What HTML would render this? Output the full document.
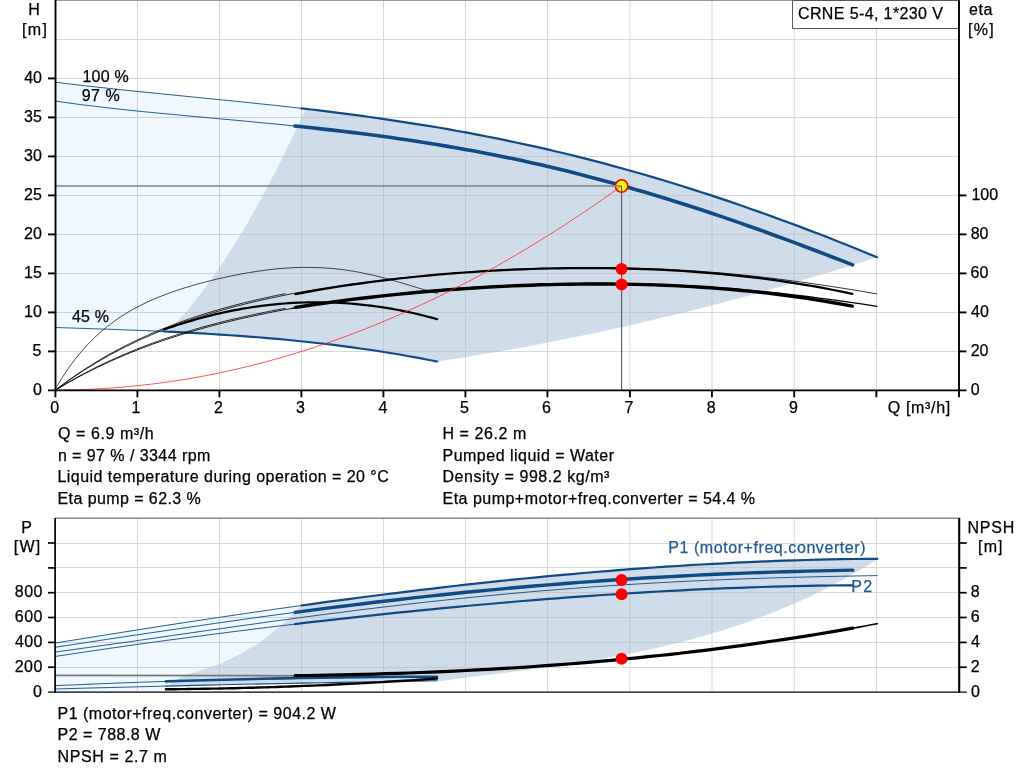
<!DOCTYPE html>
<html><head><meta charset="utf-8"><title>Pump curve</title><style>html,body{margin:0;padding:0;background:#fff}svg{display:block}</style></head><body>
<svg width="1024" height="781" viewBox="0 0 1024 781" font-family="Liberation Sans, Arial, sans-serif" font-size="16" fill="#000">
<rect width="1024" height="781" fill="#fff"/>
<g stroke="#d6d8dc" stroke-width="1">
<line x1="137.5" y1="0" x2="137.5" y2="390"/>
<line x1="219.5" y1="0" x2="219.5" y2="390"/>
<line x1="301.5" y1="0" x2="301.5" y2="390"/>
<line x1="383.5" y1="0" x2="383.5" y2="390"/>
<line x1="465.5" y1="0" x2="465.5" y2="390"/>
<line x1="547.5" y1="0" x2="547.5" y2="390"/>
<line x1="630.0" y1="0" x2="630.0" y2="390"/>
<line x1="712.0" y1="0" x2="712.0" y2="390"/>
<line x1="794.3" y1="0" x2="794.3" y2="390"/>
<line x1="876.5" y1="0" x2="876.5" y2="390"/>
<line x1="56" y1="351.5" x2="959" y2="351.5"/>
<line x1="56" y1="312.5" x2="959" y2="312.5"/>
<line x1="56" y1="273.5" x2="959" y2="273.5"/>
<line x1="56" y1="234.5" x2="959" y2="234.5"/>
<line x1="56" y1="195.5" x2="959" y2="195.5"/>
<line x1="56" y1="156.5" x2="959" y2="156.5"/>
<line x1="56" y1="117.5" x2="959" y2="117.5"/>
<line x1="56" y1="78.5" x2="959" y2="78.5"/>
<line x1="56" y1="39.5" x2="959" y2="39.5"/>
</g>
<path d="M55.5 82.2 L68.7 83.8 L81.8 85.4 L95.0 86.9 L108.1 88.3 L121.3 89.7 L134.4 91.1 L147.6 92.5 L160.8 93.8 L173.9 95.1 L187.1 96.4 L200.2 97.7 L213.4 99.0 L226.6 100.3 L239.7 101.7 L252.9 103.0 L266.0 104.4 L279.2 105.8 L292.3 107.3 L305.5 108.8 L305.5 108.8 L300.8 119.2 L296.0 129.4 L291.3 139.5 L286.5 149.3 L281.8 158.9 L277.1 168.4 L272.3 177.6 L267.6 186.7 L262.8 195.5 L258.1 204.2 L253.3 212.7 L248.6 220.9 L243.9 229.0 L239.1 236.9 L234.4 244.6 L229.6 252.1 L224.9 259.4 L220.2 266.5 L215.4 273.4 L210.7 280.1 L205.9 286.6 L201.2 292.9 L196.4 299.1 L191.7 305.0 L187.0 310.7 L182.2 316.3 L177.5 321.6 L172.7 326.7 L168.0 331.7 L168.0 331.7 L155.5 331.1 L143.0 330.6 L130.5 330.1 L118.0 329.6 L105.5 329.1 L93.0 328.7 L80.5 328.3 L68.0 327.9 L55.5 327.5Z" fill="#eff7ff"/>
<path d="M168.0 331.7 L172.7 326.7 L177.5 321.6 L182.2 316.3 L187.0 310.7 L191.7 305.0 L196.4 299.1 L201.2 292.9 L205.9 286.6 L210.7 280.1 L215.4 273.4 L220.2 266.5 L224.9 259.4 L229.6 252.1 L234.4 244.6 L239.1 236.9 L243.9 229.0 L248.6 220.9 L253.3 212.7 L258.1 204.2 L262.8 195.5 L267.6 186.7 L272.3 177.6 L277.1 168.4 L281.8 158.9 L286.5 149.3 L291.3 139.5 L296.0 129.4 L300.8 119.2 L305.5 108.8 L305.5 108.8 L315.2 110.0 L324.9 111.1 L334.6 112.3 L344.2 113.6 L353.9 114.8 L363.6 116.1 L373.3 117.5 L383.0 118.9 L392.7 120.3 L402.4 121.8 L412.1 123.3 L421.7 124.8 L431.4 126.4 L441.1 128.1 L450.8 129.7 L460.5 131.5 L470.2 133.3 L479.9 135.1 L489.5 137.0 L499.2 139.0 L508.9 140.9 L518.6 143.0 L528.3 145.1 L538.0 147.3 L547.7 149.5 L557.3 151.7 L567.0 154.1 L576.7 156.5 L586.4 158.9 L596.1 161.4 L605.8 163.9 L615.5 166.6 L625.2 169.2 L634.8 171.9 L644.5 174.7 L654.2 177.6 L663.9 180.5 L673.6 183.4 L683.3 186.4 L693.0 189.5 L702.6 192.6 L712.3 195.8 L722.0 199.0 L731.7 202.3 L741.4 205.6 L751.1 209.0 L760.8 212.4 L770.4 215.9 L780.1 219.4 L789.8 223.0 L799.5 226.6 L809.2 230.3 L818.9 234.0 L828.6 237.8 L838.3 241.6 L847.9 245.4 L857.6 249.3 L867.3 253.2 L877.0 257.2 L877.0 257.2 L865.7 260.8 L854.4 264.4 L843.2 267.9 L831.9 271.4 L820.6 274.8 L809.3 278.2 L798.1 281.6 L786.8 284.8 L775.5 288.1 L764.2 291.3 L753.0 294.4 L741.7 297.5 L730.4 300.5 L719.1 303.5 L707.8 306.4 L696.6 309.3 L685.3 312.1 L674.0 314.9 L662.7 317.6 L651.5 320.3 L640.2 322.9 L628.9 325.5 L617.6 328.0 L606.4 330.5 L595.1 332.9 L583.8 335.3 L572.5 337.6 L561.2 339.9 L550.0 342.1 L538.7 344.3 L527.4 346.4 L516.1 348.4 L504.9 350.5 L493.6 352.4 L482.3 354.3 L471.0 356.2 L459.8 358.0 L448.5 359.8 L437.2 361.5 L437.2 361.5 L427.9 359.7 L418.6 357.9 L409.4 356.2 L400.1 354.6 L390.8 353.1 L381.5 351.6 L372.2 350.2 L362.9 348.8 L353.7 347.5 L344.4 346.3 L335.1 345.1 L325.8 344.0 L316.5 342.9 L307.2 341.9 L298.0 340.9 L288.7 340.0 L279.4 339.2 L270.1 338.3 L260.8 337.6 L251.5 336.8 L242.3 336.1 L233.0 335.4 L223.7 334.8 L214.4 334.2 L205.1 333.6 L195.8 333.1 L186.6 332.6 L177.3 332.1 L168.0 331.7Z" fill="#cfdce9"/>
<clipPath id="cu"><path d="M55.5 82.2 L68.7 83.8 L81.8 85.4 L95.0 86.9 L108.1 88.3 L121.3 89.7 L134.4 91.1 L147.6 92.5 L160.8 93.8 L173.9 95.1 L187.1 96.4 L200.2 97.7 L213.4 99.0 L226.6 100.3 L239.7 101.7 L252.9 103.0 L266.0 104.4 L279.2 105.8 L292.3 107.3 L305.5 108.8 L305.5 108.8 L300.8 119.2 L296.0 129.4 L291.3 139.5 L286.5 149.3 L281.8 158.9 L277.1 168.4 L272.3 177.6 L267.6 186.7 L262.8 195.5 L258.1 204.2 L253.3 212.7 L248.6 220.9 L243.9 229.0 L239.1 236.9 L234.4 244.6 L229.6 252.1 L224.9 259.4 L220.2 266.5 L215.4 273.4 L210.7 280.1 L205.9 286.6 L201.2 292.9 L196.4 299.1 L191.7 305.0 L187.0 310.7 L182.2 316.3 L177.5 321.6 L172.7 326.7 L168.0 331.7 L168.0 331.7 L155.5 331.1 L143.0 330.6 L130.5 330.1 L118.0 329.6 L105.5 329.1 L93.0 328.7 L80.5 328.3 L68.0 327.9 L55.5 327.5Z"/><path d="M168.0 331.7 L172.7 326.7 L177.5 321.6 L182.2 316.3 L187.0 310.7 L191.7 305.0 L196.4 299.1 L201.2 292.9 L205.9 286.6 L210.7 280.1 L215.4 273.4 L220.2 266.5 L224.9 259.4 L229.6 252.1 L234.4 244.6 L239.1 236.9 L243.9 229.0 L248.6 220.9 L253.3 212.7 L258.1 204.2 L262.8 195.5 L267.6 186.7 L272.3 177.6 L277.1 168.4 L281.8 158.9 L286.5 149.3 L291.3 139.5 L296.0 129.4 L300.8 119.2 L305.5 108.8 L305.5 108.8 L315.2 110.0 L324.9 111.1 L334.6 112.3 L344.2 113.6 L353.9 114.8 L363.6 116.1 L373.3 117.5 L383.0 118.9 L392.7 120.3 L402.4 121.8 L412.1 123.3 L421.7 124.8 L431.4 126.4 L441.1 128.1 L450.8 129.7 L460.5 131.5 L470.2 133.3 L479.9 135.1 L489.5 137.0 L499.2 139.0 L508.9 140.9 L518.6 143.0 L528.3 145.1 L538.0 147.3 L547.7 149.5 L557.3 151.7 L567.0 154.1 L576.7 156.5 L586.4 158.9 L596.1 161.4 L605.8 163.9 L615.5 166.6 L625.2 169.2 L634.8 171.9 L644.5 174.7 L654.2 177.6 L663.9 180.5 L673.6 183.4 L683.3 186.4 L693.0 189.5 L702.6 192.6 L712.3 195.8 L722.0 199.0 L731.7 202.3 L741.4 205.6 L751.1 209.0 L760.8 212.4 L770.4 215.9 L780.1 219.4 L789.8 223.0 L799.5 226.6 L809.2 230.3 L818.9 234.0 L828.6 237.8 L838.3 241.6 L847.9 245.4 L857.6 249.3 L867.3 253.2 L877.0 257.2 L877.0 257.2 L865.7 260.8 L854.4 264.4 L843.2 267.9 L831.9 271.4 L820.6 274.8 L809.3 278.2 L798.1 281.6 L786.8 284.8 L775.5 288.1 L764.2 291.3 L753.0 294.4 L741.7 297.5 L730.4 300.5 L719.1 303.5 L707.8 306.4 L696.6 309.3 L685.3 312.1 L674.0 314.9 L662.7 317.6 L651.5 320.3 L640.2 322.9 L628.9 325.5 L617.6 328.0 L606.4 330.5 L595.1 332.9 L583.8 335.3 L572.5 337.6 L561.2 339.9 L550.0 342.1 L538.7 344.3 L527.4 346.4 L516.1 348.4 L504.9 350.5 L493.6 352.4 L482.3 354.3 L471.0 356.2 L459.8 358.0 L448.5 359.8 L437.2 361.5 L437.2 361.5 L427.9 359.7 L418.6 357.9 L409.4 356.2 L400.1 354.6 L390.8 353.1 L381.5 351.6 L372.2 350.2 L362.9 348.8 L353.7 347.5 L344.4 346.3 L335.1 345.1 L325.8 344.0 L316.5 342.9 L307.2 341.9 L298.0 340.9 L288.7 340.0 L279.4 339.2 L270.1 338.3 L260.8 337.6 L251.5 336.8 L242.3 336.1 L233.0 335.4 L223.7 334.8 L214.4 334.2 L205.1 333.6 L195.8 333.1 L186.6 332.6 L177.3 332.1 L168.0 331.7Z"/></clipPath>
<g stroke="#bfc1c4" stroke-width="1" opacity="0.7" clip-path="url(#cu)">
<line x1="137.5" y1="60" x2="137.5" y2="390"/>
<line x1="219.5" y1="60" x2="219.5" y2="390"/>
<line x1="301.5" y1="60" x2="301.5" y2="390"/>
<line x1="383.5" y1="60" x2="383.5" y2="390"/>
<line x1="465.5" y1="60" x2="465.5" y2="390"/>
<line x1="547.5" y1="60" x2="547.5" y2="390"/>
<line x1="630.0" y1="60" x2="630.0" y2="390"/>
<line x1="712.0" y1="60" x2="712.0" y2="390"/>
<line x1="794.3" y1="60" x2="794.3" y2="390"/>
<line x1="876.5" y1="60" x2="876.5" y2="390"/>
<line x1="56" y1="351.5" x2="880" y2="351.5"/>
<line x1="56" y1="312.5" x2="880" y2="312.5"/>
<line x1="56" y1="273.5" x2="880" y2="273.5"/>
<line x1="56" y1="234.5" x2="880" y2="234.5"/>
<line x1="56" y1="195.5" x2="880" y2="195.5"/>
<line x1="56" y1="156.5" x2="880" y2="156.5"/>
<line x1="56" y1="117.5" x2="880" y2="117.5"/>
<line x1="56" y1="78.5" x2="880" y2="78.5"/>
</g>
<rect x="55" y="0" width="905" height="1" fill="#9a9a9a"/>
<g fill="none" stroke="#0f4a85" stroke-linecap="round">
<path d="M55.5 82.2 L68.4 83.8 L81.4 85.3 L94.3 86.8 L107.3 88.2 L120.2 89.6 L133.2 91.0 L146.1 92.3 L159.1 93.6 L172.0 94.9 L185.0 96.2 L197.9 97.5 L210.9 98.8 L223.8 100.1 L236.8 101.4 L249.7 102.7 L262.7 104.1 L275.6 105.4 L288.6 106.9 L301.5 108.4" stroke-width="0.9"/>
<path d="M301.5 108.4 L311.3 109.5 L321.0 110.7 L330.8 111.9 L340.5 113.1 L350.3 114.4 L360.0 115.7 L369.8 117.0 L379.5 118.4 L389.3 119.8 L399.0 121.3 L408.8 122.8 L418.6 124.3 L428.3 125.9 L438.1 127.5 L447.8 129.2 L457.6 131.0 L467.3 132.7 L477.1 134.6 L486.8 136.5 L496.6 138.4 L506.3 140.4 L516.1 142.5 L525.8 144.6 L535.6 146.7 L545.4 148.9 L555.1 151.2 L564.9 153.5 L574.6 155.9 L584.4 158.4 L594.1 160.9 L603.9 163.4 L613.6 166.1 L623.4 168.7 L633.1 171.5 L642.9 174.3 L652.7 177.1 L662.4 180.0 L672.2 183.0 L681.9 186.0 L691.7 189.1 L701.4 192.2 L711.2 195.4 L720.9 198.6 L730.7 201.9 L740.4 205.3 L750.2 208.7 L759.9 212.1 L769.7 215.6 L779.5 219.2 L789.2 222.8 L799.0 226.4 L808.7 230.1 L818.5 233.8 L828.2 237.6 L838.0 241.5 L847.7 245.3 L857.5 249.2 L867.2 253.2 L877.0 257.2" stroke-width="2.2"/>
<path d="M55.5 101.1 L68.1 102.9 L80.7 104.6 L93.3 106.1 L105.9 107.6 L118.5 109.0 L131.1 110.4 L143.7 111.7 L156.3 112.9 L168.9 114.1 L181.6 115.3 L194.2 116.5 L206.8 117.6 L219.4 118.8 L232.0 119.9 L244.6 121.1 L257.2 122.3 L269.8 123.5 L282.4 124.7 L295.0 126.0" stroke-width="0.9"/>
<path d="M295.0 126.0 L304.4 127.0 L313.9 128.0 L323.3 129.1 L332.8 130.1 L342.2 131.2 L351.7 132.4 L361.1 133.5 L370.6 134.8 L380.0 136.0 L389.5 137.3 L398.9 138.7 L408.4 140.0 L417.8 141.5 L427.3 143.0 L436.7 144.5 L446.2 146.1 L455.6 147.7 L465.1 149.4 L474.5 151.1 L484.0 152.9 L493.4 154.8 L502.9 156.7 L512.3 158.6 L521.8 160.6 L531.2 162.7 L540.7 164.8 L550.1 167.0 L559.6 169.3 L569.0 171.6 L578.5 174.0 L587.9 176.4 L597.4 178.9 L606.8 181.4 L616.3 184.0 L625.7 186.6 L635.2 189.4 L644.6 192.1 L654.1 194.9 L663.5 197.8 L673.0 200.7 L682.4 203.7 L691.9 206.8 L701.3 209.8 L710.8 213.0 L720.2 216.1 L729.7 219.4 L739.1 222.6 L748.6 226.0 L758.0 229.3 L767.5 232.7 L776.9 236.2 L786.4 239.6 L795.8 243.1 L805.3 246.7 L814.7 250.3 L824.2 253.9 L833.6 257.5 L843.1 261.1 L852.5 264.8" stroke-width="3.6"/>
<path d="M55.5 327.5 L67.6 327.9 L79.6 328.3 L91.7 328.7 L103.7 329.1 L115.8 329.5 L127.8 330.0 L139.9 330.4 L151.9 330.9 L164.0 331.5" stroke-width="0.9"/>
<path d="M164.0 331.5 L173.4 331.9 L182.8 332.4 L192.3 332.9 L201.7 333.4 L211.1 334.0 L220.5 334.6 L229.9 335.2 L239.4 335.9 L248.8 336.6 L258.2 337.3 L267.6 338.1 L277.0 338.9 L286.5 339.8 L295.9 340.7 L305.3 341.7 L314.7 342.7 L324.2 343.8 L333.6 344.9 L343.0 346.1 L352.4 347.4 L361.8 348.7 L371.3 350.0 L380.7 351.5 L390.1 353.0 L399.5 354.5 L408.9 356.2 L418.4 357.9 L427.8 359.7 L437.2 361.5" stroke-width="2.1"/>
</g>
<g fill="none" stroke="#000" stroke-linecap="round">
<path d="M55.5 388.6 L62.0 377.9 L68.4 368.3 L74.9 359.5 L81.4 351.6 L87.8 344.4 L94.3 337.8 L100.8 331.9 L107.3 326.5 L113.7 321.6 L120.2 317.1 L126.7 313.0 L133.1 309.2 L139.6 305.8 L146.1 302.6 L152.5 299.7 L159.0 297.0 L165.5 294.5 L172.0 292.1 L178.4 289.9 L184.9 287.8 L191.4 285.9 L197.8 284.0 L204.3 282.3 L210.8 280.6 L217.2 279.0 L223.7 277.6 L230.2 276.2 L236.6 274.9 L243.1 273.6 L249.6 272.5 L256.1 271.5 L262.5 270.6 L269.0 269.7 L275.5 269.0 L281.9 268.4 L288.4 268.0 L294.9 267.6 L301.3 267.4 L307.8 267.4 L314.3 267.5 L320.7 267.7 L327.2 268.1 L333.7 268.6 L340.2 269.3 L346.6 270.2 L353.1 271.2 L359.6 272.4 L366.0 273.7 L372.5 275.1 L379.0 276.7 L385.4 278.3 L391.9 280.1 L398.4 282.0 L404.9 283.9 L411.3 285.8 L417.8 287.8 L424.3 289.7 L430.7 291.6 L437.2 293.4" stroke-width="0.7"/>
<path d="M164.0 329.5 L168.6 327.9 L173.3 326.4 L177.9 324.8 L182.5 323.4 L187.2 321.9 L191.8 320.6 L196.4 319.2 L201.0 318.0 L205.7 316.7 L210.3 315.6 L214.9 314.4 L219.6 313.4 L224.2 312.3 L228.8 311.4 L233.5 310.4 L238.1 309.6 L242.7 308.7 L247.3 308.0 L252.0 307.2 L256.6 306.6 L261.2 305.9 L265.9 305.3 L270.5 304.8 L275.1 304.3 L279.8 303.9 L284.4 303.5 L289.0 303.2 L293.7 302.9 L298.3 302.7 L302.9 302.5 L307.5 302.4 L312.2 302.3 L316.8 302.3 L321.4 302.3 L326.1 302.4 L330.7 302.5 L335.3 302.7 L340.0 302.9 L344.6 303.2 L349.2 303.5 L353.9 303.9 L358.5 304.3 L363.1 304.8 L367.7 305.3 L372.4 305.9 L377.0 306.5 L381.6 307.2 L386.3 307.9 L390.9 308.7 L395.5 309.5 L400.2 310.4 L404.8 311.3 L409.4 312.3 L414.0 313.3 L418.7 314.4 L423.3 315.5 L427.9 316.7 L432.6 317.9 L437.2 319.2" stroke-width="2.2"/>
<path d="M55.5 390.0 L69.4 379.9 L83.3 370.7 L97.3 362.1 L111.2 354.2 L125.1 347.0 L139.0 340.3 L152.9 334.2 L166.9 328.5 L180.8 323.3 L194.7 318.5 L208.6 314.1 L222.5 310.0 L236.5 306.2 L250.4 302.7 L264.3 299.5 L278.2 296.5 L292.1 293.7 L306.1 291.2 L320.0 288.8 L333.9 286.6 L347.8 284.5 L361.7 282.6 L375.7 280.9 L389.6 279.2 L403.5 277.7 L417.4 276.3 L431.3 275.0 L445.3 273.8 L459.2 272.7 L473.1 271.7 L487.0 270.8 L501.0 270.1 L514.9 269.4 L528.8 268.8 L542.7 268.3 L556.6 268.0 L570.6 267.7 L584.5 267.6 L598.4 267.6 L612.3 267.7 L626.2 267.9 L640.2 268.3 L654.1 268.8 L668.0 269.4 L681.9 270.2 L695.8 271.0 L709.8 272.1 L723.7 273.2 L737.6 274.5 L751.5 275.9 L765.4 277.5 L779.4 279.2 L793.3 281.0 L807.2 282.9 L821.1 284.9 L835.0 287.0 L849.0 289.2 L862.9 291.5 L876.8 293.9" stroke-width="0.8"/>
<path d="M55.5 390.0 L69.0 379.9 L82.5 370.7 L96.0 362.1 L109.5 354.2 L123.0 347.0 L136.5 340.3 L150.0 334.2 L163.5 328.5 L177.0 323.3 L190.5 318.5 L204.0 314.1 L217.5 310.0 L231.0 306.2 L244.5 302.7 L258.0 299.5 L271.5 296.5 L285.0 293.7" stroke-width="0.8"/>
<path d="M295.5 294.1 L304.9 292.3 L314.4 290.6 L323.8 289.0 L333.2 287.5 L342.7 286.0 L352.1 284.6 L361.6 283.3 L371.0 282.0 L380.4 280.8 L389.9 279.6 L399.3 278.5 L408.7 277.5 L418.2 276.5 L427.6 275.6 L437.1 274.7 L446.5 273.9 L455.9 273.2 L465.4 272.5 L474.8 271.8 L484.2 271.2 L493.7 270.7 L503.1 270.2 L512.6 269.7 L522.0 269.3 L531.4 269.0 L540.9 268.7 L550.3 268.5 L559.7 268.3 L569.2 268.2 L578.6 268.1 L588.1 268.1 L597.5 268.1 L606.9 268.2 L616.4 268.4 L625.8 268.6 L635.2 268.8 L644.7 269.1 L654.1 269.5 L663.6 269.9 L673.0 270.4 L682.4 271.0 L691.9 271.6 L701.3 272.3 L710.7 273.1 L720.2 273.9 L729.6 274.8 L739.1 275.8 L748.5 276.8 L757.9 277.9 L767.4 279.1 L776.8 280.4 L786.2 281.8 L795.7 283.3 L805.1 284.8 L814.6 286.4 L824.0 288.1 L833.4 290.0 L842.9 291.9 L852.3 293.9" stroke-width="2.2"/>
<path d="M55.5 390.0 L69.4 381.9 L83.3 374.4 L97.3 367.4 L111.2 360.9 L125.1 354.9 L139.0 349.3 L152.9 344.1 L166.9 339.2 L180.8 334.8 L194.7 330.6 L208.6 326.7 L222.5 323.1 L236.5 319.7 L250.4 316.6 L264.3 313.7 L278.2 310.9 L292.1 308.4" stroke-width="0.85"/>
<path d="M292.1 308.4 L306.1 306.0 L320.0 303.8 L333.9 301.7 L347.8 299.8 L361.7 298.0 L375.7 296.3 L389.6 294.7 L403.5 293.3 L417.4 291.9 L431.3 290.7 L445.3 289.5 L459.2 288.5 L473.1 287.5 L487.0 286.7 L501.0 285.9 L514.9 285.3 L528.8 284.7 L542.7 284.2 L556.6 283.9 L570.6 283.6 L584.5 283.5 L598.4 283.4 L612.3 283.5 L626.2 283.7 L640.2 283.9 L654.1 284.3 L668.0 284.9 L681.9 285.5 L695.8 286.2 L709.8 287.1 L723.7 288.1 L737.6 289.2 L751.5 290.4 L765.4 291.8 L779.4 293.2 L793.3 294.8 L807.2 296.5 L821.1 298.3 L835.0 300.1 L849.0 302.1 L862.9 304.1 L876.8 306.3" stroke-width="1.3"/>
<path d="M55.5 390.0 L69.0 381.9 L82.5 374.4 L96.0 367.4 L109.5 360.9 L123.0 354.9 L136.5 349.3 L150.0 344.1 L163.5 339.2 L177.0 334.8 L190.5 330.6 L204.0 326.7 L217.5 323.1 L231.0 319.7 L244.5 316.6 L258.0 313.7 L271.5 310.9 L285.0 308.4" stroke-width="0.8"/>
<path d="M295.5 307.4 L304.9 306.0 L314.4 304.5 L323.8 303.2 L333.2 301.9 L342.7 300.6 L352.1 299.4 L361.6 298.3 L371.0 297.2 L380.4 296.1 L389.9 295.1 L399.3 294.1 L408.7 293.2 L418.2 292.3 L427.6 291.5 L437.1 290.7 L446.5 289.9 L455.9 289.2 L465.4 288.6 L474.8 288.0 L484.2 287.4 L493.7 286.8 L503.1 286.4 L512.6 285.9 L522.0 285.5 L531.4 285.2 L540.9 284.8 L550.3 284.6 L559.7 284.4 L569.2 284.2 L578.6 284.1 L588.1 284.0 L597.5 284.0 L606.9 284.0 L616.4 284.1 L625.8 284.2 L635.2 284.4 L644.7 284.6 L654.1 284.9 L663.6 285.2 L673.0 285.6 L682.4 286.1 L691.9 286.6 L701.3 287.2 L710.7 287.8 L720.2 288.6 L729.6 289.3 L739.1 290.2 L748.5 291.1 L757.9 292.1 L767.4 293.1 L776.8 294.2 L786.2 295.5 L795.7 296.7 L805.1 298.1 L814.6 299.6 L824.0 301.1 L833.4 302.7 L842.9 304.4 L852.3 306.2" stroke-width="3.4"/>
</g>
<circle cx="621.6" cy="186" r="6.2" fill="#ffff00" stroke="#f00" stroke-width="1.6"/>
<line x1="56" y1="186" x2="621.6" y2="186" stroke="#7d8489" stroke-width="1.3"/>
<line x1="621.6" y1="186" x2="621.6" y2="390" stroke="#55595e" stroke-width="1.1"/>
<path d="M55.5 390.0 L65.1 389.9 L74.7 389.8 L84.3 389.5 L93.9 389.1 L103.5 388.5 L113.1 387.9 L122.7 387.1 L132.3 386.2 L141.9 385.2 L151.5 384.1 L161.1 382.9 L170.7 381.5 L180.3 380.1 L189.9 378.5 L199.5 376.8 L209.1 375.0 L218.7 373.0 L228.3 371.0 L237.9 368.8 L247.5 366.5 L257.1 364.1 L266.7 361.6 L276.3 358.9 L285.9 356.2 L295.5 353.3 L305.1 350.3 L314.7 347.2 L324.3 344.0 L333.9 340.6 L343.5 337.2 L353.1 333.6 L362.7 329.9 L372.4 326.1 L382.0 322.1 L391.6 318.1 L401.2 313.9 L410.8 309.6 L420.4 305.2 L430.0 300.7 L439.6 296.1 L449.2 291.3 L458.8 286.4 L468.4 281.5 L478.0 276.3 L487.6 271.1 L497.2 265.8 L506.8 260.3 L516.4 254.7 L526.0 249.0 L535.6 243.2 L545.2 237.3 L554.8 231.3 L564.4 225.1 L574.0 218.8 L583.6 212.4 L593.2 205.9 L602.8 199.3 L612.4 192.5 L622.0 185.6" fill="none" stroke="#ff2a2a" stroke-width="0.8"/>
<circle cx="621.6" cy="269" r="6" fill="#f00"/>
<circle cx="621.6" cy="284.5" r="6" fill="#f00"/>
<g stroke="#000" stroke-width="1.9">
<line x1="55.5" y1="0" x2="55.5" y2="391.3"/>
<line x1="959" y1="0" x2="959" y2="391.3"/>
<line x1="48" y1="390.4" x2="966.4" y2="390.4"/>
<line x1="48" y1="351.4" x2="56" y2="351.4"/>
<line x1="48" y1="312.4" x2="56" y2="312.4"/>
<line x1="48" y1="273.4" x2="56" y2="273.4"/>
<line x1="48" y1="234.4" x2="56" y2="234.4"/>
<line x1="48" y1="195.4" x2="56" y2="195.4"/>
<line x1="48" y1="156.4" x2="56" y2="156.4"/>
<line x1="48" y1="117.4" x2="56" y2="117.4"/>
<line x1="48" y1="78.4" x2="56" y2="78.4"/>
<line x1="958" y1="351.4" x2="966.4" y2="351.4"/>
<line x1="958" y1="312.4" x2="966.4" y2="312.4"/>
<line x1="958" y1="273.4" x2="966.4" y2="273.4"/>
<line x1="958" y1="234.4" x2="966.4" y2="234.4"/>
<line x1="958" y1="195.4" x2="966.4" y2="195.4"/>
<line x1="55.4" y1="390" x2="55.4" y2="397.3"/>
<line x1="137.4" y1="390" x2="137.4" y2="397.3"/>
<line x1="219.4" y1="390" x2="219.4" y2="397.3"/>
<line x1="301.4" y1="390" x2="301.4" y2="397.3"/>
<line x1="383.4" y1="390" x2="383.4" y2="397.3"/>
<line x1="465.4" y1="390" x2="465.4" y2="397.3"/>
<line x1="547.4" y1="390" x2="547.4" y2="397.3"/>
<line x1="629.9" y1="390" x2="629.9" y2="397.3"/>
<line x1="711.9" y1="390" x2="711.9" y2="397.3"/>
<line x1="794.2" y1="390" x2="794.2" y2="397.3"/>
<line x1="876.4" y1="390" x2="876.4" y2="397.3"/>
<line x1="959" y1="390" x2="959" y2="397.3"/>
</g>
<path d="M958 0.5H792.5V28.5H958" fill="#fff" stroke="#555" stroke-width="1"/>
<g stroke="#d6d8dc" stroke-width="1">
<line x1="137.5" y1="518" x2="137.5" y2="691"/>
<line x1="219.5" y1="518" x2="219.5" y2="691"/>
<line x1="301.5" y1="518" x2="301.5" y2="691"/>
<line x1="383.5" y1="518" x2="383.5" y2="691"/>
<line x1="465.5" y1="518" x2="465.5" y2="691"/>
<line x1="547.5" y1="518" x2="547.5" y2="691"/>
<line x1="630.0" y1="518" x2="630.0" y2="691"/>
<line x1="712.0" y1="518" x2="712.0" y2="691"/>
<line x1="794.3" y1="518" x2="794.3" y2="691"/>
<line x1="876.5" y1="518" x2="876.5" y2="691"/>
<line x1="56" y1="667.5" x2="959" y2="667.5"/>
<line x1="56" y1="642.5" x2="959" y2="642.5"/>
<line x1="56" y1="617.5" x2="959" y2="617.5"/>
<line x1="56" y1="592.5" x2="959" y2="592.5"/>
<line x1="56" y1="567.5" x2="959" y2="567.5"/>
<line x1="56" y1="543.5" x2="959" y2="543.5"/>
</g>
<path d="M55.5 643.0 L83.0 638.5 L110.4 634.1 L137.9 629.8 L165.3 625.5 L192.8 621.3 L220.2 617.2 L247.7 613.1 L275.1 609.2 L302.6 605.3 L296.8 609.3 L290.6 616.4 L283.6 623.4 L273.0 632.2 L259.0 642.7 L241.4 653.3 L220.3 663.8 L193.9 672.6 L180.0 677.5 L166.7 681.4 L166.7 692.0 L55.5 692.0Z" fill="#eff7ff"/>
<path d="M302.6 605.3 L314.3 603.7 L326.1 602.1 L337.8 600.5 L349.5 599.0 L361.2 597.4 L373.0 595.9 L384.7 594.4 L396.4 592.9 L408.2 591.5 L419.9 590.1 L431.6 588.7 L443.3 587.3 L455.1 586.0 L466.8 584.6 L478.5 583.3 L490.3 582.1 L502.0 580.8 L513.7 579.6 L525.4 578.4 L537.2 577.3 L548.9 576.2 L560.6 575.1 L572.4 574.0 L584.1 573.0 L595.8 572.0 L607.5 571.0 L619.3 570.1 L631.0 569.2 L642.7 568.3 L654.5 567.5 L666.2 566.7 L677.9 565.9 L689.6 565.2 L701.4 564.5 L713.1 563.9 L724.8 563.2 L736.6 562.7 L748.3 562.1 L760.0 561.6 L771.7 561.2 L783.5 560.7 L795.2 560.4 L806.9 560.0 L818.7 559.7 L830.4 559.4 L842.1 559.2 L853.8 559.0 L865.6 558.9 L877.3 558.8 L877.3 559.5 L862.1 568.8 L846.9 577.5 L831.8 585.6 L816.6 593.3 L801.4 600.4 L786.2 607.1 L771.0 613.3 L755.8 619.1 L740.7 624.5 L725.5 629.5 L710.3 634.1 L695.1 638.4 L679.9 642.4 L664.7 646.1 L649.6 649.5 L634.4 652.7 L619.2 655.6 L604.0 658.4 L588.8 660.9 L573.6 663.3 L558.5 665.6 L543.3 667.7 L528.1 669.8 L512.9 671.8 L497.7 673.7 L482.5 675.6 L467.4 677.5 L452.2 679.4 L437.0 681.4 L437.0 680.8 L407.0 681.2 L376.9 681.7 L346.9 682.2 L316.9 682.8 L286.8 683.4 L256.8 684.0 L226.8 684.6 L196.7 685.3 L166.7 686.0 L180.0 677.5 L193.9 672.6 L220.3 663.8 L241.4 653.3 L259.0 642.7 L273.0 632.2 L283.6 623.4 L290.6 616.4 L296.8 609.3 L302.6 605.6Z" fill="#cfdce9"/>
<clipPath id="cl"><path d="M55.5 643.0 L83.0 638.5 L110.4 634.1 L137.9 629.8 L165.3 625.5 L192.8 621.3 L220.2 617.2 L247.7 613.1 L275.1 609.2 L302.6 605.3 L296.8 609.3 L290.6 616.4 L283.6 623.4 L273.0 632.2 L259.0 642.7 L241.4 653.3 L220.3 663.8 L193.9 672.6 L180.0 677.5 L166.7 681.4 L166.7 692.0 L55.5 692.0Z"/><path d="M302.6 605.3 L314.3 603.7 L326.1 602.1 L337.8 600.5 L349.5 599.0 L361.2 597.4 L373.0 595.9 L384.7 594.4 L396.4 592.9 L408.2 591.5 L419.9 590.1 L431.6 588.7 L443.3 587.3 L455.1 586.0 L466.8 584.6 L478.5 583.3 L490.3 582.1 L502.0 580.8 L513.7 579.6 L525.4 578.4 L537.2 577.3 L548.9 576.2 L560.6 575.1 L572.4 574.0 L584.1 573.0 L595.8 572.0 L607.5 571.0 L619.3 570.1 L631.0 569.2 L642.7 568.3 L654.5 567.5 L666.2 566.7 L677.9 565.9 L689.6 565.2 L701.4 564.5 L713.1 563.9 L724.8 563.2 L736.6 562.7 L748.3 562.1 L760.0 561.6 L771.7 561.2 L783.5 560.7 L795.2 560.4 L806.9 560.0 L818.7 559.7 L830.4 559.4 L842.1 559.2 L853.8 559.0 L865.6 558.9 L877.3 558.8 L877.3 559.5 L862.1 568.8 L846.9 577.5 L831.8 585.6 L816.6 593.3 L801.4 600.4 L786.2 607.1 L771.0 613.3 L755.8 619.1 L740.7 624.5 L725.5 629.5 L710.3 634.1 L695.1 638.4 L679.9 642.4 L664.7 646.1 L649.6 649.5 L634.4 652.7 L619.2 655.6 L604.0 658.4 L588.8 660.9 L573.6 663.3 L558.5 665.6 L543.3 667.7 L528.1 669.8 L512.9 671.8 L497.7 673.7 L482.5 675.6 L467.4 677.5 L452.2 679.4 L437.0 681.4 L437.0 680.8 L407.0 681.2 L376.9 681.7 L346.9 682.2 L316.9 682.8 L286.8 683.4 L256.8 684.0 L226.8 684.6 L196.7 685.3 L166.7 686.0 L180.0 677.5 L193.9 672.6 L220.3 663.8 L241.4 653.3 L259.0 642.7 L273.0 632.2 L283.6 623.4 L290.6 616.4 L296.8 609.3 L302.6 605.6Z"/></clipPath>
<g stroke="#bfc1c4" stroke-width="1" opacity="0.7" clip-path="url(#cl)">
<line x1="137.5" y1="550" x2="137.5" y2="691"/>
<line x1="219.5" y1="550" x2="219.5" y2="691"/>
<line x1="301.5" y1="550" x2="301.5" y2="691"/>
<line x1="383.5" y1="550" x2="383.5" y2="691"/>
<line x1="465.5" y1="550" x2="465.5" y2="691"/>
<line x1="547.5" y1="550" x2="547.5" y2="691"/>
<line x1="630.0" y1="550" x2="630.0" y2="691"/>
<line x1="712.0" y1="550" x2="712.0" y2="691"/>
<line x1="794.3" y1="550" x2="794.3" y2="691"/>
<line x1="876.5" y1="550" x2="876.5" y2="691"/>
<line x1="56" y1="667.5" x2="880" y2="667.5"/>
<line x1="56" y1="642.5" x2="880" y2="642.5"/>
<line x1="56" y1="617.5" x2="880" y2="617.5"/>
<line x1="56" y1="592.5" x2="880" y2="592.5"/>
<line x1="56" y1="567.5" x2="880" y2="567.5"/>
</g>
<rect x="55" y="517.5" width="905" height="1.5" fill="#8c8c8c"/>
<g fill="none" stroke="#0f4a85" stroke-linecap="round">
<path d="M55.5 643.0 L82.8 638.6 L110.2 634.2 L137.5 629.9 L164.8 625.6 L192.2 621.4 L219.5 617.3 L246.8 613.3 L274.2 609.3 L301.5 605.5" stroke-width="0.9"/>
<path d="M301.5 605.5 L313.3 603.8 L325.0 602.2 L336.8 600.6 L348.5 599.1 L360.3 597.5 L372.0 596.0 L383.8 594.5 L395.5 593.1 L407.3 591.6 L419.0 590.2 L430.8 588.8 L442.5 587.4 L454.3 586.0 L466.0 584.7 L477.8 583.4 L489.5 582.1 L501.3 580.9 L513.0 579.7 L524.8 578.5 L536.5 577.3 L548.3 576.2 L560.0 575.1 L571.8 574.1 L583.5 573.0 L595.3 572.0 L607.0 571.1 L618.8 570.1 L630.5 569.2 L642.3 568.4 L654.0 567.5 L665.8 566.7 L677.5 566.0 L689.3 565.2 L701.0 564.5 L712.8 563.9 L724.5 563.3 L736.3 562.7 L748.0 562.1 L759.8 561.6 L771.5 561.2 L783.3 560.7 L795.0 560.4 L806.8 560.0 L818.5 559.7 L830.3 559.4 L842.0 559.2 L853.8 559.0 L865.5 558.9 L877.3 558.8" stroke-width="2.2"/>
<path d="M55.5 647.2 L82.1 643.2 L108.7 639.1 L135.3 635.1 L161.9 631.2 L188.6 627.3 L215.2 623.4 L241.8 619.6 L268.4 615.9 L295.0 612.4" stroke-width="0.9"/>
<path d="M295.0 612.4 L306.4 610.9 L317.8 609.4 L329.2 607.9 L340.5 606.5 L351.9 605.1 L363.3 603.7 L374.7 602.3 L386.1 601.0 L397.5 599.7 L408.8 598.4 L420.2 597.1 L431.6 595.9 L443.0 594.7 L454.4 593.5 L465.8 592.3 L477.1 591.2 L488.5 590.1 L499.9 589.1 L511.3 588.0 L522.7 587.0 L534.1 586.0 L545.4 585.1 L556.8 584.2 L568.2 583.3 L579.6 582.4 L591.0 581.6 L602.4 580.8 L613.7 580.0 L625.1 579.2 L636.5 578.5 L647.9 577.8 L659.3 577.2 L670.7 576.6 L682.0 576.0 L693.4 575.4 L704.8 574.8 L716.2 574.3 L727.6 573.8 L739.0 573.4 L750.3 572.9 L761.7 572.5 L773.1 572.1 L784.5 571.8 L795.9 571.5 L807.3 571.1 L818.6 570.9 L830.0 570.6 L841.4 570.4 L852.8 570.1" stroke-width="3.4"/>
<path d="M55.5 652.0 L72.3 649.7 L89.0 647.4 L105.8 645.0 L122.6 642.7 L139.4 640.3 L156.1 637.9 L172.9 635.4 L189.7 633.0 L206.4 630.6 L223.2 628.3 L240.0 625.9 L256.8 623.6 L273.5 621.2 L290.3 619.0 L307.1 616.7 L323.8 614.5 L340.6 612.4 L357.4 610.2 L374.2 608.2 L390.9 606.2 L407.7 604.2 L424.5 602.3 L441.2 600.5 L458.0 598.7 L474.8 597.0 L491.6 595.4 L508.3 593.8 L525.1 592.3 L541.9 590.8 L558.6 589.5 L575.4 588.2 L592.2 586.9 L609.0 585.8 L625.7 584.7 L642.5 583.7 L659.3 582.7 L676.0 581.8 L692.8 581.0 L709.6 580.2 L726.4 579.5 L743.1 578.9 L759.9 578.3 L776.7 577.8 L793.4 577.3 L810.2 576.9 L827.0 576.5 L843.8 576.2 L860.5 575.9 L877.3 575.6" stroke-width="0.9"/>
<path d="M55.5 656.4 L82.1 652.4 L108.7 648.5 L135.3 644.7 L161.9 641.0 L188.6 637.5 L215.2 634.0 L241.8 630.6 L268.4 627.3 L295.0 624.1" stroke-width="0.9"/>
<path d="M295.0 624.1 L306.4 622.7 L317.8 621.4 L329.2 620.1 L340.5 618.8 L351.9 617.6 L363.3 616.3 L374.7 615.1 L386.1 613.9 L397.5 612.7 L408.8 611.6 L420.2 610.4 L431.6 609.3 L443.0 608.2 L454.4 607.1 L465.8 606.0 L477.1 605.0 L488.5 604.0 L499.9 603.0 L511.3 602.0 L522.7 601.0 L534.1 600.1 L545.4 599.2 L556.8 598.3 L568.2 597.4 L579.6 596.6 L591.0 595.8 L602.4 595.0 L613.7 594.3 L625.1 593.5 L636.5 592.8 L647.9 592.1 L659.3 591.5 L670.7 590.9 L682.0 590.3 L693.4 589.7 L704.8 589.2 L716.2 588.7 L727.6 588.2 L739.0 587.8 L750.3 587.4 L761.7 587.0 L773.1 586.7 L784.5 586.4 L795.9 586.1 L807.3 585.9 L818.6 585.7 L830.0 585.5 L841.4 585.4 L852.8 585.3" stroke-width="2.2"/>
<path d="M55.5 685.6 L83.1 684.5 L110.8 683.3 L138.4 682.3 L166.0 681.4" stroke-width="0.9"/>
<path d="M166.0 681.4 L185.4 680.8 L204.7 680.2 L224.1 679.7 L243.4 679.2 L262.8 678.8 L282.1 678.4 L301.5 678.0 L320.9 677.7 L340.2 677.4 L359.6 677.2 L378.9 677.0 L398.3 676.8 L417.6 676.7 L437.0 676.7" stroke-width="2.6"/>
<path d="M55.5 689.0 L83.1 688.2 L110.8 687.5 L138.4 686.8 L166.0 686.1" stroke-width="0.9"/>
<path d="M166.0 686.1 L185.4 685.6 L204.7 685.1 L224.1 684.7 L243.4 684.3 L262.8 683.9 L282.1 683.5 L301.5 683.1 L320.9 682.7 L340.2 682.4 L359.6 682.0 L378.9 681.7 L398.3 681.4 L417.6 681.1 L437.0 680.8" stroke-width="1.1"/>
</g>
<g fill="none" stroke-linecap="round">
<path d="M55.5 675.3 L296 675.8" stroke="#74787c" stroke-width="1.8"/>
<path d="M295.0 675.7 L306.4 675.5 L317.8 675.3 L329.2 675.1 L340.5 674.9 L351.9 674.6 L363.3 674.4 L374.7 674.1 L386.1 673.7 L397.5 673.4 L408.8 673.0 L420.2 672.5 L431.6 672.1 L443.0 671.6 L454.4 671.1 L465.8 670.5 L477.1 669.9 L488.5 669.3 L499.9 668.7 L511.3 668.0 L522.7 667.3 L534.1 666.5 L545.4 665.7 L556.8 664.8 L568.2 664.0 L579.6 663.1 L591.0 662.1 L602.4 661.1 L613.7 660.1 L625.1 659.0 L636.5 657.9 L647.9 656.7 L659.3 655.5 L670.7 654.3 L682.0 653.0 L693.4 651.6 L704.8 650.3 L716.2 648.8 L727.6 647.4 L739.0 645.9 L750.3 644.3 L761.7 642.7 L773.1 641.0 L784.5 639.3 L795.9 637.6 L807.3 635.8 L818.6 634.0 L830.0 632.1 L841.4 630.1 L852.8 628.2" stroke="#000" stroke-width="3.2"/>
<path d="M852.8 628.2 L858.9 627.1 L865.0 626.0 L871.2 624.8 L877.3 623.7" stroke="#000" stroke-width="1.6"/>
<path d="M166.0 689.3 L170.6 689.2 L175.2 689.2 L179.8 689.1 L184.4 689.1 L189.0 689.0 L193.6 688.9 L198.2 688.9 L202.7 688.8 L207.3 688.7 L211.9 688.6 L216.5 688.6 L221.1 688.5 L225.7 688.4 L230.3 688.3 L234.9 688.2 L239.5 688.0 L244.1 687.9 L248.7 687.8 L253.3 687.7 L257.9 687.5 L262.5 687.4 L267.1 687.3 L271.6 687.1 L276.2 687.0 L280.8 686.8 L285.4 686.6 L290.0 686.5 L294.6 686.3 L299.2 686.1 L303.8 685.9 L308.4 685.8 L313.0 685.6 L317.6 685.4 L322.2 685.2 L326.8 685.0 L331.4 684.7 L335.9 684.5 L340.5 684.3 L345.1 684.1 L349.7 683.8 L354.3 683.6 L358.9 683.4 L363.5 683.1 L368.1 682.9 L372.7 682.6 L377.3 682.4 L381.9 682.1 L386.5 681.8 L391.1 681.5 L395.7 681.3 L400.3 681.0 L404.8 680.7 L409.4 680.4 L414.0 680.1 L418.6 679.8 L423.2 679.5 L427.8 679.1 L432.4 678.8 L437.0 678.5" stroke="#000" stroke-width="2.4"/>
</g>
<circle cx="621.6" cy="580.00" r="6" fill="#f00"/>
<circle cx="621.6" cy="594.25" r="6" fill="#f00"/>
<circle cx="621.6" cy="658.75" r="6" fill="#f00"/>
<g stroke="#000">
<line x1="55.1" y1="518" x2="55.1" y2="692.8" stroke-width="1.7"/>
<line x1="959.2" y1="518" x2="959.2" y2="692.8" stroke-width="2.1"/>
<line x1="48" y1="692.2" x2="966.7" y2="692.2" stroke-width="1.3"/>
<line x1="48" y1="667.2" x2="56" y2="667.2" stroke-width="1.7"/>
<line x1="959" y1="667.2" x2="966.7" y2="667.2" stroke-width="1.7"/>
<line x1="48" y1="642.4" x2="56" y2="642.4" stroke-width="1.7"/>
<line x1="959" y1="642.4" x2="966.7" y2="642.4" stroke-width="1.7"/>
<line x1="48" y1="617.5" x2="56" y2="617.5" stroke-width="1.7"/>
<line x1="959" y1="617.5" x2="966.7" y2="617.5" stroke-width="1.7"/>
<line x1="48" y1="592.7" x2="56" y2="592.7" stroke-width="1.7"/>
<line x1="959" y1="592.7" x2="966.7" y2="592.7" stroke-width="1.7"/>
<line x1="48" y1="567.9" x2="56" y2="567.9" stroke-width="1.7"/>
<line x1="959" y1="567.9" x2="966.7" y2="567.9" stroke-width="1.7"/>
<line x1="48" y1="543.0" x2="56" y2="543.0" stroke-width="1.7"/>
<line x1="959" y1="543.0" x2="966.7" y2="543.0" stroke-width="1.7"/>
</g>
<g stroke="#000" stroke-width="0.25">
<text x="58.0" y="439.0" letter-spacing="0.57">Q = 6.9 m³/h</text>
<text x="57.9" y="461.0" letter-spacing="0.44">n = 97 % / 3344 rpm</text>
<text x="57.5" y="482.0" letter-spacing="0.46">Liquid temperature during operation = 20 °C</text>
<text x="57.5" y="504.0" letter-spacing="0.42">Eta pump = 62.3 %</text>
<text x="442.5" y="439.0" letter-spacing="0.56">H = 26.2 m</text>
<text x="442.5" y="461.0" letter-spacing="0.49">Pumped liquid = Water</text>
<text x="442.5" y="482.0" letter-spacing="0.54">Density = 998.2 kg/m³</text>
<text x="442.5" y="504.0" letter-spacing="0.48">Eta pump+motor+freq.converter = 54.4 %</text>
<text x="57.5" y="719.0" letter-spacing="0.50">P1 (motor+freq.converter) = 904.2 W</text>
<text x="57.5" y="740.0" letter-spacing="0.49">P2 = 788.8 W</text>
<text x="57.5" y="762.0" letter-spacing="0.60">NPSH = 2.7 m</text>
<text x="28.2" y="15.0">H</text>
<text x="22.1" y="35.0" letter-spacing="1.26">[m]</text>
<text x="969.1" y="15.0" letter-spacing="0.48">eta</text>
<text x="968.1" y="35.0" letter-spacing="1.18">[%]</text>
<text x="82.4" y="82.0" letter-spacing="0.25">100 %</text>
<text x="81.7" y="101.0" letter-spacing="0.51">97 %</text>
<text x="72.1" y="322.0" letter-spacing="0.13">45 %</text>
<text x="798.0" y="19.0" letter-spacing="0.38">CRNE 5-4, 1*230 V</text>
<text x="887.7" y="413.0" letter-spacing="0.68">Q [m³/h]</text>
<text x="21.2" y="533.0">P</text>
<text x="13.7" y="552.0" letter-spacing="1.30">[W]</text>
<text x="967.5" y="533.0" letter-spacing="0.79">NPSH</text>
<text x="978.1" y="552.0" letter-spacing="1.10">[m]</text>
<text x="668.2" y="553.0" fill="#1d5a96" stroke="#1d5a96" letter-spacing="0.57">P1 (motor+freq.converter)</text>
<text x="851.2" y="592.0" fill="#1d5a96" stroke="#1d5a96" letter-spacing="1.30">P2</text>
<text x="33.0" y="395.0">0</text>
<text x="32.5" y="356.0">5</text>
<text x="24.1" y="317.0">10</text>
<text x="24.1" y="278.0">15</text>
<text x="24.0" y="239.0">20</text>
<text x="24.0" y="200.0">25</text>
<text x="24.0" y="161.0">30</text>
<text x="24.0" y="122.0">35</text>
<text x="24.2" y="83.0">40</text>
<text x="970.8" y="395.0">0</text>
<text x="970.7" y="356.0">20</text>
<text x="971.1" y="317.0">40</text>
<text x="970.6" y="278.0">60</text>
<text x="970.7" y="239.0">80</text>
<text x="971.4" y="200.0">100</text>
<text x="50.2" y="413.0">0</text>
<text x="131.5" y="413.0">1</text>
<text x="214.0" y="413.0">2</text>
<text x="296.0" y="413.0">3</text>
<text x="378.5" y="413.0">4</text>
<text x="460.0" y="413.0">5</text>
<text x="542.1" y="413.0">6</text>
<text x="624.6" y="413.0">7</text>
<text x="706.7" y="413.0">8</text>
<text x="789.0" y="413.0">9</text>
<text x="33.0" y="697.0">0</text>
<text x="971.0" y="697.0">0</text>
<text x="14.7" y="672.0" letter-spacing="0.48">200</text>
<text x="970.7" y="672.0">2</text>
<text x="15.1" y="647.0" letter-spacing="0.28">400</text>
<text x="971.1" y="647.0">4</text>
<text x="14.8" y="622.0" letter-spacing="0.43">600</text>
<text x="970.8" y="622.0">6</text>
<text x="14.8" y="597.0" letter-spacing="0.46">800</text>
<text x="970.8" y="597.0">8</text>
</g>
</svg>
</body></html>
